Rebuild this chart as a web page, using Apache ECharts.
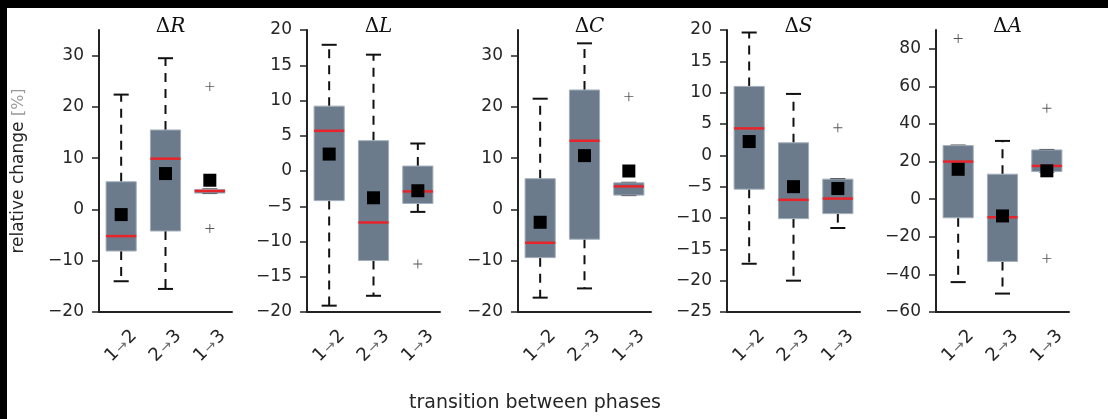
<!DOCTYPE html>
<html>
<head>
<meta charset="utf-8">
<script src="https://cdn.jsdelivr.net/npm/echarts@6/dist/echarts.min.js"></script>
<style>
  html, body { margin: 0; padding: 0; background: #fff; }
  #chart { width: 1108px; height: 419px; }
</style>
</head>
<body>
<div id="chart"></div>
<script>
  // x categories (transition between phases)
  const categories = ['1→2', '2→3', '1→3']
  const panelNames = ['R', 'L', 'C', 'S', 'A']

  // box stats per transition: [min, q1, median, q3, max]
  const boxR = [[-14.0, -8.1, -5.2, 5.4, 22.4], [-15.5, -4.2, 9.9, 15.5, 29.5], [3.2, 3.2, 3.6, 3.9, 3.9]]
  const boxL = [[-19.1, -4.2, 5.7, 9.2, 17.9], [-17.7, -12.7, -7.3, 4.3, 16.5], [-5.8, -4.6, -2.9, 0.7, 3.9]]
  const boxC = [[-17.2, -9.4, -6.5, 6.0, 21.6], [-15.4, -5.8, 13.4, 23.3, 32.4], [2.8, 2.8, 4.5, 5.2, 5.2]]
  const boxS = [[-17.3, -5.4, 4.3, 11.0, 19.6], [-20.0, -10.1, -7.1, 2.0, 9.8], [-11.6, -9.3, -6.9, -3.8, -3.8]]
  const boxA = [[-44.1, -9.9, 20.0, 28.5, 28.5], [-50.2, -33.1, -9.6, 13.3, 31.0], [14.7, 14.7, 17.7, 26.2, 26.2]]

  // means (black squares)
  const meanR = [-1.0, 7.0, 5.7]
  const meanL = [2.4, -3.8, -2.8]
  const meanC = [-2.5, 10.5, 7.5]
  const meanS = [2.2, -5.0, -5.3]
  const meanA = [15.9, -8.9, 15.1]

  // outliers: [transition index, value]
  const outR = [[2, 24.0], [2, -3.7]]
  const outL = [[2, -13.2]]
  const outC = [[2, 22.0]]
  const outS = [[2, 4.4]]
  const outA = [[0, 85.5], [2, 48.4], [2, -31.6]]

  // y axis ranges and tick labels
  const yMins = [-20, -20, -20, -25, -60]
  const yMaxs = [35, 20, 35, 20, 90]
  const ticksR = [-20, -10, 0, 10, 20, 30]
  const ticksL = [-20, -15, -10, -5, 0, 5, 10, 15, 20]
  const ticksC = [-20, -10, 0, 10, 20, 30]
  const ticksS = [-25, -20, -15, -10, -5, 0, 5, 10, 15, 20]
  const ticksA = [-60, -40, -20, 0, 20, 40, 60, 80]

  const boxes = [boxR, boxL, boxC, boxS, boxA]
  const means = [meanR, meanL, meanC, meanS, meanA]
  const outliers = [outR, outL, outC, outS, outA]
  const ticks = [ticksR, ticksL, ticksC, ticksS, ticksA]

  const gridLefts = [99, 307, 518, 727, 936]
  const gridWidth = 133
  const gridTop = 30
  const gridHeight = 282
  const axisColor = '#222'
  const textColor = '#262626'

  function renderBox(params, api) {
    const x = api.value(0)
    const pMin = api.coord([x, api.value(1)])
    const pQ1 = api.coord([x, api.value(2)])
    const pMed = api.coord([x, api.value(3)])
    const pQ3 = api.coord([x, api.value(4)])
    const pMax = api.coord([x, api.value(5)])
    const band = api.size([1, 0])[0]
    const boxW = band * 0.68
    const capW = band * 0.34
    const cx = pMed[0]
    const dash = { stroke: '#111', lineWidth: 2, lineDash: [9, 7] }
    const solid = { stroke: '#111', lineWidth: 2 }
    return {
      type: 'group',
      children: [
        { type: 'line', shape: { x1: cx, y1: pQ3[1], x2: cx, y2: pMax[1] }, style: dash },
        { type: 'line', shape: { x1: cx, y1: pQ1[1], x2: cx, y2: pMin[1] }, style: dash },
        { type: 'line', shape: { x1: cx - capW / 2, y1: pMax[1], x2: cx + capW / 2, y2: pMax[1] }, style: solid },
        { type: 'line', shape: { x1: cx - capW / 2, y1: pMin[1], x2: cx + capW / 2, y2: pMin[1] }, style: solid },
        {
          type: 'rect',
          shape: { x: cx - boxW / 2, y: pQ3[1], width: boxW, height: pQ1[1] - pQ3[1] },
          style: { fill: '#6b7b8c', stroke: '#a3aeba', lineWidth: 1 }
        },
        { type: 'line', shape: { x1: cx - boxW / 2, y1: pMed[1], x2: cx + boxW / 2, y2: pMed[1] }, style: { stroke: '#e8242b', lineWidth: 2.5 } }
      ]
    }
  }

  const chart = echarts.init(document.getElementById('chart'), null, { renderer: 'canvas' })

  const grid = [], xAxis = [], yAxis = [], series = [], title = []

  boxes.forEach((box, i) => {
    grid.push({ left: gridLefts[i], top: gridTop, width: gridWidth, height: gridHeight })
    title.push({
      text: '{d|Δ}{v|' + panelNames[i] + '}',
      left: gridLefts[i] + gridWidth / 2,
      top: 12,
      textAlign: 'center',
      textStyle: {
        fontWeight: 'normal',
        rich: {
          d: { fontFamily: 'DejaVu Serif', fontWeight: 'normal', fontSize: 20, color: '#111' },
          v: { fontFamily: 'DejaVu Serif', fontWeight: 'normal', fontStyle: 'italic', fontSize: 20, color: '#111' }
        }
      }
    })
    xAxis.push({
      type: 'category',
      gridIndex: i,
      data: categories,
      boundaryGap: true,
      axisLine: { onZero: false, lineStyle: { color: axisColor, width: 2 } },
      axisTick: { alignWithLabel: true, length: 7, lineStyle: { color: axisColor, width: 1.5 } },
      axisLabel: {
        rotate: 45,
        align: 'center',
        verticalAlign: 'middle',
        margin: 34,
        formatter: v => {
          const p = v.split('→')
          return '{n|' + p[0] + '}{a|→}{n|' + p[1] + '}'
        },
        rich: {
          n: { fontFamily: 'DejaVu Sans', fontSize: 18, color: textColor },
          a: { fontFamily: 'DejaVu Sans', fontSize: 14, color: '#666', padding: [3, 1, 0, 1] }
        }
      }
    })
    yAxis.push({
      type: 'value',
      gridIndex: i,
      min: yMins[i],
      max: yMaxs[i],
      name: i === 0 ? '{m|relative change }{p|[%]}' : '',
      nameLocation: 'middle',
      nameGap: 72,
      nameTextStyle: {
        rich: {
          m: { fontFamily: 'DejaVu Sans', fontSize: 17, color: textColor },
          p: { fontFamily: 'DejaVu Sans', fontSize: 16, color: '#999' }
        }
      },
      splitLine: { show: false },
      axisLine: { show: true, onZero: false, lineStyle: { color: axisColor, width: 2 } },
      axisTick: { show: true, length: 7, customValues: ticks[i], lineStyle: { color: axisColor, width: 1.5 } },
      axisLabel: {
        customValues: ticks[i],
        margin: 15,
        fontFamily: 'DejaVu Sans',
        fontSize: 17,
        color: textColor,
        formatter: v => String(v).replace('-', '\u2212')
      }
    })
    series.push({
      type: 'custom',
      xAxisIndex: i,
      yAxisIndex: i,
      renderItem: renderBox,
      encode: { x: 0, y: [1, 2, 3, 4, 5] },
      clip: false,
      z: 2,
      data: box.map((b, j) => [j].concat(b))
    })
    series.push({
      type: 'scatter',
      xAxisIndex: i,
      yAxisIndex: i,
      symbol: 'rect',
      symbolSize: 13,
      itemStyle: { color: '#000', opacity: 1 },
      z: 4,
      data: means[i].map((m, j) => [j, m])
    })
    series.push({
      type: 'scatter',
      xAxisIndex: i,
      yAxisIndex: i,
      symbol: 'path://M4.5,0h1v4.5h4.5v1h-4.5v4.5h-1v-4.5h-4.5v-1h4.5z',
      symbolSize: 9,
      itemStyle: { color: '#555', opacity: 1 },
      z: 4,
      data: outliers[i]
    })
  })

  chart.setOption({
    backgroundColor: '#fff',
    animation: false,
    title: title,
    grid: grid,
    xAxis: xAxis,
    yAxis: yAxis,
    series: series,
    graphic: [
      { type: 'rect', shape: { x: 0, y: 0, width: 1108, height: 8 }, style: { fill: '#000' } },
      { type: 'rect', shape: { x: 0, y: 0, width: 7, height: 419 }, style: { fill: '#000' } },
      {
        type: 'text',
        x: 535,
        y: 403,
        style: {
          text: 'transition between phases',
          fontFamily: 'DejaVu Sans',
          fontSize: 19,
          fill: textColor,
          align: 'center',
          verticalAlign: 'middle'
        }
      }
    ]
  })
</script>
</body>
</html>
